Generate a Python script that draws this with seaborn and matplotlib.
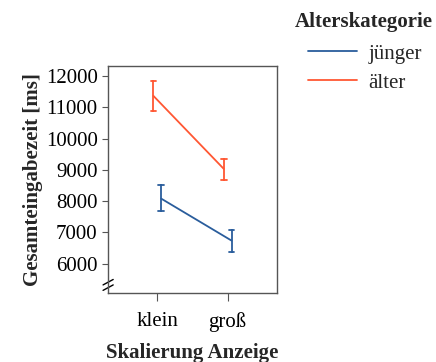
import matplotlib
matplotlib.use("Agg")
import matplotlib.pyplot as plt
import pandas as pd
import seaborn as sns
from matplotlib.lines import Line2D

# data (mean with lower/upper error bound)
scales = ["klein", "groß"]
groups = ["jünger", "älter"]
mean_young = [8080, 6740]
lower_young = [7680, 6360]
upper_young = [8510, 7085]
mean_old = [11360, 9030]
lower_old = [10890, 8660]
upper_old = [11850, 9360]
colors = {"jünger": "#2a5d9c", "älter": "#ff5733"}

rows = []
for grp, lo, mid, hi in [("jünger", lower_young, mean_young, upper_young),
                         ("älter", lower_old, mean_old, upper_old)]:
    for i, sc in enumerate(scales):
        for v in (lo[i], mid[i], hi[i]):
            rows.append({"Skalierung": sc, "Alterskategorie": grp, "ms": v})
df = pd.DataFrame(rows)

sns.set_style("ticks")
plt.rcParams["font.family"] = ["Liberation Serif", "DejaVu Serif"]
plt.rcParams["font.size"] = 15

fig = plt.figure(figsize=(4.36, 3.62), dpi=100)
ax = fig.add_axes([0.248, 0.191, 0.387, 0.627])

# median of (lo, mean, hi) = mean; 100% interval = (lo, hi)
# älter first in hue order so it is dodged to the left, as in the reference
sns.pointplot(data=df, x="Skalierung", y="ms", hue="Alterskategorie",
              order=scales, hue_order=["älter", "jünger"], palette=colors,
              estimator="median", errorbar=("pi", 100), capsize=0.08,
              dodge=0.11, markers="", linewidth=1.3,
              err_kws={"linewidth": 1.3}, ax=ax, legend=False)

ax.set_xlim(-0.7, 1.7)
ax.set_ylim(5070, 12320)
ax.set_yticks(range(6000, 12001, 1000))
ax.set_xlabel("Skalierung Anzeige", fontweight="bold", labelpad=8)
ax.set_ylabel("Gesamteingabezeit [ms]", fontweight="bold", labelpad=2)
for s in ax.spines.values():
    s.set_color("#555555")
    s.set_linewidth(1.0)
ax.tick_params(axis="both", colors="#555555", labelcolor="black", length=4)
ax.tick_params(axis="x", length=6, pad=8)

# axis break marks
for dy in (-0.012, 0.012):
    ax.plot([-0.03, 0.03], [0.035 + dy - 0.012, 0.035 + dy + 0.012],
            transform=ax.transAxes, color="black", lw=1.0, clip_on=False)

# legend outside, title drawn separately for the wider gap
fig.text(364 / 436, 1 - 22 / 362, "Alterskategorie", fontweight="bold",
         fontsize=15, ha="center", va="center")
handles = [Line2D([], [], color=colors[g], lw=1.3) for g in groups]
fig.legend(handles, groups, loc="upper left", bbox_to_anchor=(308 / 436, 1 - 44 / 362),
           frameon=False, borderpad=0, borderaxespad=0, handlelength=2.35,
           handletextpad=0.55, labelspacing=0.45)

fig.savefig("out.png", dpi=100)
